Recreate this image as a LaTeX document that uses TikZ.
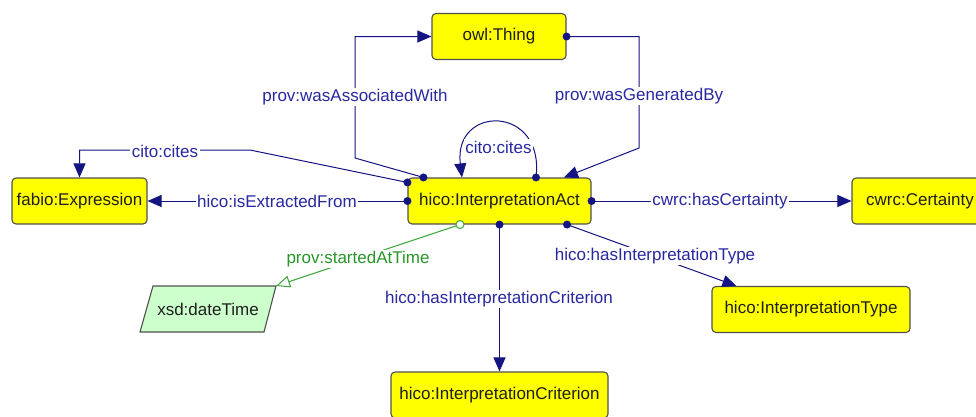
\documentclass[tikz,border=0pt]{standalone}
\usepackage{fontspec}
\setmainfont{Liberation Sans}
\usetikzlibrary{arrows.meta,calc}
\definecolor{linec}{RGB}{20,20,130}
\definecolor{labc}{RGB}{40,40,160}
\definecolor{greenl}{RGB}{60,165,60}
\definecolor{greent}{RGB}{40,150,40}
\definecolor{boxfill}{RGB}{255,255,0}
\definecolor{boxline}{RGB}{80,80,80}
\definecolor{boxtext}{RGB}{30,30,30}
\definecolor{dtfill}{RGB}{204,255,204}
\begin{document}
\begin{tikzpicture}[x=1pt,y=-1pt,
 cls/.style={draw=boxline, fill=boxfill, text=boxtext, rounded corners=4pt, line width=1.1pt, minimum height=46pt, inner sep=0pt, font=\fontsize{17}{20}\selectfont},
 rel/.style={draw=linec, line width=1pt, -{Triangle[length=14pt,width=12pt]}},
 grel/.style={draw=greenl, line width=1pt, -{Triangle[open,length=14pt,width=12pt,fill=white]}},
 lab/.style={fill=white, text=labc, inner sep=1.5pt, font=\fontsize{17}{20}\selectfont},
 glab/.style={fill=white, text=greent, inner sep=1.5pt, font=\fontsize{17}{20}\selectfont}
]
\useasboundingbox (0,0) rectangle (976,416);
\clip (0,0) rectangle (976,416);
\fill[white] (0,0) rectangle (976,416);

% nodes
\node[cls, minimum width=134pt] (owl) at (499,36.5) {owl:Thing};
\node[cls, minimum width=135pt] (expr) at (79.5,201) {fabio:Expression};
\node[cls, minimum width=183pt] (ia) at (499.5,201) {hico:InterpretationAct};
\node[cls, minimum width=136pt] (cert) at (920,201) {cwrc:Certainty};
\node[cls, minimum width=198pt] (itype) at (811,309.5) {hico:InterpretationType};
\node[cls, minimum width=217pt] (crit) at (499.5,395) {hico:InterpretationCriterion};

\draw[draw=boxline, fill=dtfill, line width=1.1pt] (153,286) -- (276,286) -- (264,332) -- (140,332) -- cycle;
\node[font=\fontsize{17}{20}\selectfont, text=boxtext, inner sep=0pt] (dt) at (208,309) {xsd:dateTime};
\coordinate (dtc) at (276,286);

% anchor points
\coordinate (a1) at ($(ia.north west)+(16,0)$);
\coordinate (a2) at ($(ia.north)+(64.5,0)$);
\coordinate (a3) at ($(ia.north)+(36.5,0)$);
\coordinate (a4) at ($(ia.north)+(-37.5,0)$);
\coordinate (a5) at ($(ia.north west)+(0,5)$);
\coordinate (a6) at ($(ia.south)+(67.5,0)$);
\coordinate (a7) at ($(ia.south)+(-39.5,0)$);
\coordinate (t6) at ($(itype.north west)+(25,0)$);

% connectors
\draw[rel] (a1) -- (355,158) |- (owl.west);
\draw[rel] (owl.east) -| (639,148) -- (a2);
\draw[rel] (a3) .. controls +(9,-73) and +(-9,-73) .. (a4);
\draw[rel] (a5) -- (250,150) -| (expr.north);
\draw[rel] (ia.west) -- (expr.east);
\draw[rel] (ia.east) -- (cert.west);
\draw[rel] (a6) -- (t6);
\draw[rel] (ia.south) -- (crit.north);
\draw[grel] (a7) -- (dtc);

% dots
\foreach \p in {a1,a3,a5,ia.west,ia.east,a6,ia.south,owl.east}
  \fill[linec] (\p) circle (4pt);
\draw[greenl, fill=white, line width=1pt] (a7) circle (4pt);

% labels
\node[lab] at (355,97) {prov:wasAssociatedWith};
\node[lab] at (639,96) {prov:wasGeneratedBy};
\node[lab] at (498.5,147) {cito:cites};
\node[lab] at (165,151) {cito:cites};
\node[lab] at (277,201) {hico:isExtractedFrom};
\node[lab] at (720,201) {cwrc:hasCertainty};
\node[lab] at (655,256) {hico:hasInterpretationType};
\node[lab] at (499,299) {hico:hasInterpretationCriterion};
\node[glab] at (358,259) {prov:startedAtTime};
\end{tikzpicture}
\end{document}
